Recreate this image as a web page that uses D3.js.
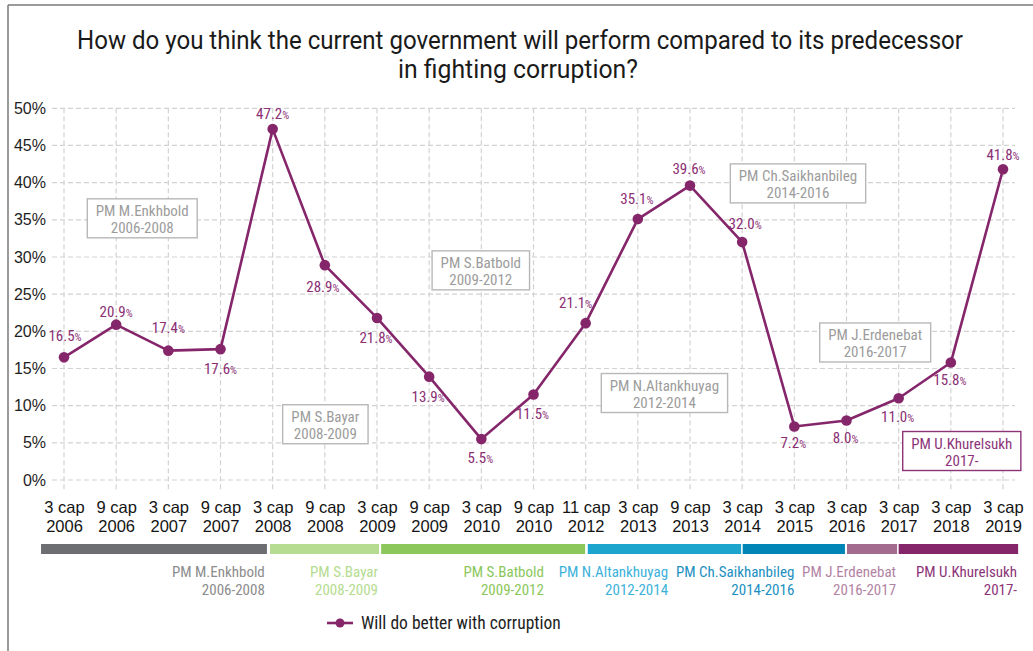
<!DOCTYPE html>
<html>
<head>
<meta charset="utf-8">
<script src="https://cdn.jsdelivr.net/npm/d3@7"></script>
<style>
  body { margin: 0; background: #fff; }
  svg { display: block; font-family: "Liberation Sans Narrow", "Roboto Condensed", "DejaVu Sans Condensed", "Liberation Sans", sans-serif; }
</style>
</head>
<body>
<svg id="chart" width="1033" height="651"></svg>
<script>
// Survey waves (month "cap" + year)
const categories = [
  "3 cap 2006", "9 cap 2006", "3 cap 2007", "9 cap 2007", "3 cap 2008",
  "9 cap 2008", "3 cap 2009", "9 cap 2009", "3 cap 2010", "9 cap 2010",
  "11 cap 2012", "3 cap 2013", "9 cap 2013", "3 cap 2014", "3 cap 2015",
  "3 cap 2016", "3 cap 2017", "3 cap 2018", "3 cap 2019"
];

// Share answering "Will do better with corruption" (%)
const values = [16.5, 20.9, 17.4, 17.6, 47.2, 28.9, 21.8, 13.9, 5.5, 11.5,
                21.1, 35.1, 39.6, 32.0, 7.2, 8.0, 11.0, 15.8, 41.8];

const yTicks = [0, 5, 10, 15, 20, 25, 30, 35, 40, 45, 50];

// Prime ministers' terms, expressed on the survey-wave index axis
const pmNames = ["PM M.Enkhbold", "PM S.Bayar", "PM S.Batbold", "PM N.Altankhuyag",
                 "PM Ch.Saikhanbileg", "PM J.Erdenebat", "PM U.Khurelsukh"];
const pmYears = ["2006-2008", "2008-2009", "2009-2012", "2012-2014",
                 "2014-2016", "2016-2017", "2017-"];
const pmTermStart = [-0.44, 3.95, 6.08, 10.04, 13.01, 15.01, 16.0];
const pmTermEnd   = [3.89, 6.04, 9.99, 12.98, 14.97, 15.97, 18.29];

// Label placement (layout, not data)
const pmLabelAnchor = [3.85, 6.02, 9.2, 11.58, 14.0, 15.95, 18.27];
const pmNoteAnchor = [[1.5, 35.2], [5.01, 7.5], [7.99, 28.2], [11.51, 11.7],
                      [14.07, 39.9], [15.55, 18.5], [17.21, 3.9]];
const valueLabelOffset = [[1, -16], [0, -8], [0, -18], [0, 25], [0, -10],
                          [-2, 27], [-1, 25], [-1, 25], [-1, 24], [-1, 24],
                          [-10, -15], [-1, -15], [-1, -12], [3, -13], [-1, 22],
                          [-1, 22], [-1, 24], [-1, 22], [0, -9]];

// Colours
const pmBarColors   = ["#6d6e71", "#b5dc90", "#8bc75a", "#1ea5cd", "#0085b6", "#a36b8e", "#85266b"];
const pmLabelColors = ["#8c8c8c", "#b5dc90", "#8bc75a", "#3cb2da", "#1c8fc1", "#b383a4", "#8d3479"];
const lineColor = "#85266b";
const labelColor = "#8b2f74";

const svg = d3.select("#chart");

// Frame
svg.append("line").attr("x1", 8).attr("x2", 1033).attr("y1", 5).attr("y2", 5)
  .attr("stroke", "#7a7a7a").attr("stroke-width", 1.5);
svg.append("line").attr("x1", 8).attr("x2", 8).attr("y1", 5).attr("y2", 651)
  .attr("stroke", "#7a7a7a").attr("stroke-width", 1.5);

// Title
const title = svg.append("text").attr("text-anchor", "middle").attr("fill", "#1a1a1a")
  .style("font-family", "Roboto, 'Liberation Sans', sans-serif").style("font-size", "25px");
title.append("tspan").attr("x", 520).attr("y", 49)
  .attr("textLength", 886).attr("lengthAdjust", "spacingAndGlyphs")
  .text("How do you think the current government will perform compared to its predecessor");
title.append("tspan").attr("x", 518).attr("y", 78)
  .attr("textLength", 240).attr("lengthAdjust", "spacingAndGlyphs")
  .text("in fighting corruption?");

// Scales
const x = d3.scaleLinear().domain([0, categories.length - 1]).range([64, 1003]);
const y = d3.scaleLinear().domain([0, 50]).range([480, 108.3]);

const gridLeft = 52, gridRight = 1015;

// Horizontal grid
svg.append("g").selectAll("line").data(yTicks).join("line")
  .attr("x1", gridLeft).attr("x2", gridRight)
  .attr("y1", d => y(d)).attr("y2", d => y(d))
  .attr("stroke", "#d2d2d2").attr("stroke-width", 1.2).attr("stroke-dasharray", "5,3");

// Vertical grid
svg.append("g").selectAll("line").data(categories).join("line")
  .attr("x1", (d, i) => x(i)).attr("x2", (d, i) => x(i))
  .attr("y1", y(50)).attr("y2", 490)
  .attr("stroke", "#d2d2d2").attr("stroke-width", 1.2).attr("stroke-dasharray", "5,3");

// Y axis
const yAxis = svg.append("g").attr("transform", `translate(${gridLeft},0)`)
  .call(d3.axisLeft(y).tickValues(yTicks).tickFormat(d => d + "%").tickSize(0).tickPadding(6));
yAxis.select(".domain").remove();
yAxis.selectAll("text").style("font-family", null).attr("font-size", 16).attr("fill", "#1e1e1e");

// X axis with two-line labels
const xAxis = svg.append("g").attr("transform", "translate(0,490)")
  .call(d3.axisBottom(x).tickValues(d3.range(categories.length)).tickSize(0).tickFormat(""));
xAxis.select(".domain").remove();
xAxis.selectAll(".tick").each(function(d) {
  const parts = categories[d].split(" ");
  const t = d3.select(this).select("text")
    .attr("y", 0).attr("dy", null)
    .style("font-family", null).attr("font-size", 16.5).attr("fill", "#141414");
  t.append("tspan").attr("x", 0).attr("y", 23).text(parts[0] + " " + parts[1]);
  t.append("tspan").attr("x", 0).attr("y", 42).text(parts[2]);
});

// Term annotation boxes inside the plot
const notes = svg.append("g");
pmNames.forEach((name, i) => {
  const cx = x(pmNoteAnchor[i][0]), cy = y(pmNoteAnchor[i][1]);
  const last = i === pmNames.length - 1;
  const g = notes.append("g");
  const rect = g.append("rect");
  const t = g.append("text").attr("text-anchor", "middle").attr("font-size", 15)
    .attr("fill", last ? "#8d3479" : "#9c9c9c");
  t.append("tspan").attr("x", cx).attr("y", cy - 2).text(name);
  t.append("tspan").attr("x", cx).attr("y", cy + 15).text(pmYears[i]);
  const bb = t.node().getBBox();
  const w = bb.width + 17;
  rect.attr("x", cx - w / 2).attr("y", cy - 19.5).attr("width", w).attr("height", 39)
    .attr("fill", "#fff").attr("stroke", last ? "#8d3479" : "#b8b8b8").attr("stroke-width", 1.4);
});

// Line
const line = d3.line().x((d, i) => x(i)).y(d => y(d));
svg.append("path").datum(values).attr("d", line)
  .attr("fill", "none").attr("stroke", lineColor).attr("stroke-width", 2.6)
  .attr("stroke-linejoin", "round");

svg.append("g").selectAll("circle").data(values).join("circle")
  .attr("cx", (d, i) => x(i)).attr("cy", d => y(d)).attr("r", 5.3)
  .attr("fill", lineColor);

// Value labels
const vl = svg.append("g").selectAll("text").data(values).join("text")
  .attr("x", (d, i) => x(i) + valueLabelOffset[i][0])
  .attr("y", (d, i) => y(d) + valueLabelOffset[i][1])
  .attr("text-anchor", "middle").attr("fill", labelColor);
vl.append("tspan").attr("font-size", 15).text(d => d.toFixed(1));
vl.append("tspan").attr("font-size", 11).text("%");

// Term band under the axis
svg.append("g").selectAll("rect").data(pmNames).join("rect")
  .attr("x", (d, i) => x(pmTermStart[i]))
  .attr("width", (d, i) => x(pmTermEnd[i]) - x(pmTermStart[i]))
  .attr("y", 544).attr("height", 10)
  .attr("fill", (d, i) => pmBarColors[i]);

const termLabels = svg.append("g").selectAll("text").data(pmNames).join("text")
  .attr("text-anchor", "end").attr("font-size", 15)
  .attr("fill", (d, i) => pmLabelColors[i]);
termLabels.append("tspan").attr("x", (d, i) => x(pmLabelAnchor[i])).attr("y", 577).text(d => d);
termLabels.append("tspan").attr("x", (d, i) => x(pmLabelAnchor[i])).attr("y", 594.5).text((d, i) => pmYears[i]);

// Legend
const legend = svg.append("g").attr("transform", "translate(327,623)");
legend.append("line").attr("x1", 0).attr("x2", 26).attr("y1", 0).attr("y2", 0)
  .attr("stroke", lineColor).attr("stroke-width", 2.6);
legend.append("circle").attr("cx", 13).attr("cy", 0).attr("r", 4.5).attr("fill", lineColor);
legend.append("text").attr("x", 34).attr("y", 6).attr("font-size", 17.5).attr("fill", "#1e1e1e")
  .text("Will do better with corruption");
</script>
</body>
</html>
